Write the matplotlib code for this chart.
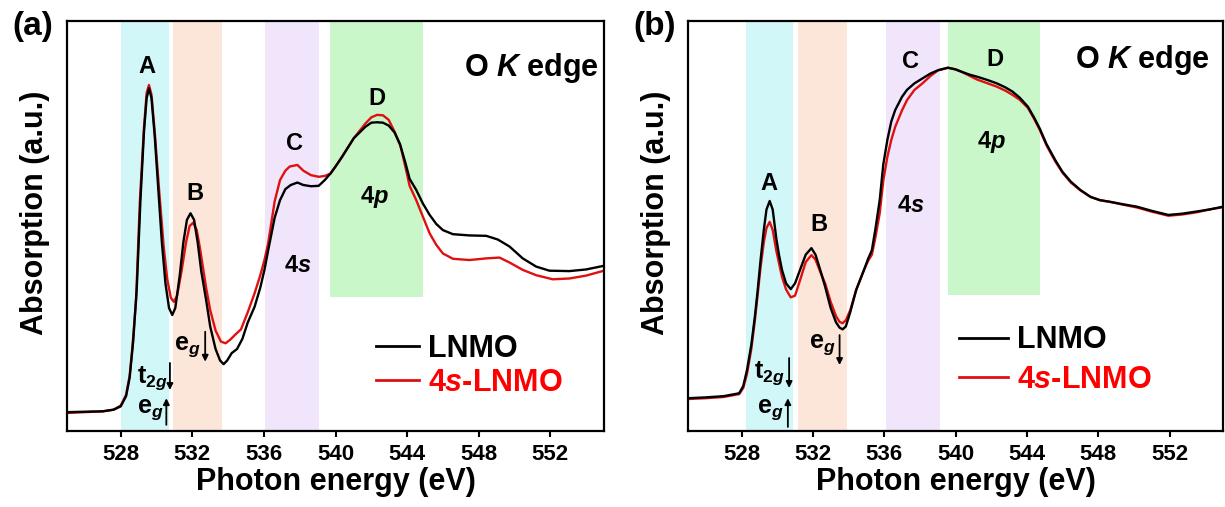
import matplotlib
matplotlib.use("Agg")
import matplotlib.pyplot as plt

plt.rcParams['font.family'] = ['Liberation Sans', 'DejaVu Sans']
plt.rcParams['font.weight'] = 'bold'
plt.rcParams['axes.labelweight'] = 'bold'
plt.rcParams['mathtext.fontset'] = 'custom'
plt.rcParams['mathtext.rm'] = 'Liberation Sans:bold'
plt.rcParams['mathtext.bf'] = 'Liberation Sans:bold'
plt.rcParams['mathtext.it'] = 'Liberation Sans:italic:bold'
plt.rcParams['mathtext.bfit'] = 'Liberation Sans:italic:bold'

# ---- panel (a) data: photon energy (eV) vs absorption (a.u.) ----
a_lnmo_e = [525.0, 526.0, 527.0, 527.6, 528.0, 528.3, 528.5, 528.7, 528.9, 529.1,
            529.3, 529.45, 529.58, 529.72, 529.9, 530.1, 530.3, 530.5, 530.7, 530.88,
            531.05, 531.3, 531.5, 531.7, 531.9, 532.1, 532.3, 532.5, 532.77, 533.0,
            533.3, 533.55, 533.75, 533.95, 534.2, 534.5, 534.8, 535.1, 535.48, 535.8,
            536.03, 536.24, 536.6, 536.9, 537.2, 537.5, 537.87, 538.2, 538.63, 539.06,
            539.4, 539.72, 540.0, 540.37, 541.02, 541.67, 542.0, 542.32, 542.65, 542.97,
            543.3, 543.6, 543.9, 544.14, 544.51, 544.88, 545.26, 545.63, 546.0, 546.56,
            547.49, 548.42, 549.07, 549.72, 550.46, 551.21, 551.95, 553.07, 554.0, 555.0]
a_lnmo = [0.046, 0.047, 0.048, 0.052, 0.060, 0.085, 0.130, 0.220, 0.350, 0.560,
          0.730, 0.812, 0.836, 0.812, 0.720, 0.590, 0.460, 0.360, 0.300, 0.283,
          0.300, 0.380, 0.460, 0.515, 0.531, 0.515, 0.460, 0.390, 0.320, 0.255,
          0.200, 0.172, 0.163, 0.172, 0.190, 0.200, 0.225, 0.265, 0.303, 0.350,
          0.393, 0.441, 0.520, 0.563, 0.590, 0.600, 0.606, 0.600, 0.597, 0.598,
          0.612, 0.628, 0.645, 0.669, 0.714, 0.742, 0.752, 0.753, 0.752, 0.745,
          0.728, 0.700, 0.655, 0.615, 0.588, 0.555, 0.527, 0.505, 0.490, 0.480,
          0.477, 0.476, 0.467, 0.450, 0.421, 0.401, 0.391, 0.390, 0.394, 0.403]

a_4s_e = [525.0, 526.0, 527.0, 527.6, 528.0, 528.3, 528.5, 528.64, 528.86, 529.07,
          529.3, 529.45, 529.58, 529.72, 529.9, 530.16, 530.4, 530.6, 530.8, 530.97,
          531.15, 531.4, 531.65, 531.85, 532.05, 532.25, 532.45, 532.77, 533.0, 533.3,
          533.6, 533.86, 534.1, 534.4, 534.72, 535.1, 535.48, 535.8, 536.03, 536.24,
          536.6, 536.9, 537.2, 537.44, 537.87, 538.2, 538.63, 539.06, 539.4, 539.72,
          540.0, 540.37, 541.02, 541.67, 542.0, 542.32, 542.65, 542.97, 543.3, 543.63,
          543.9, 544.14, 544.51, 544.88, 545.26, 545.63, 546.0, 546.56, 547.49, 548.42,
          549.16, 549.72, 550.46, 551.21, 552.14, 553.07, 554.0, 555.0]
a_4s = [0.044, 0.046, 0.048, 0.052, 0.062, 0.088, 0.135, 0.198, 0.320, 0.560,
        0.740, 0.825, 0.844, 0.820, 0.730, 0.580, 0.450, 0.370, 0.325, 0.315,
        0.330, 0.390, 0.460, 0.500, 0.508, 0.490, 0.440, 0.350, 0.295, 0.245,
        0.218, 0.214, 0.222, 0.235, 0.248, 0.290, 0.336, 0.380, 0.417, 0.458,
        0.560, 0.612, 0.635, 0.645, 0.649, 0.635, 0.624, 0.620, 0.622, 0.628,
        0.645, 0.669, 0.714, 0.750, 0.765, 0.771, 0.770, 0.759, 0.730, 0.695,
        0.645, 0.598, 0.563, 0.523, 0.482, 0.454, 0.433, 0.420, 0.417, 0.421,
        0.423, 0.411, 0.393, 0.380, 0.370, 0.372, 0.379, 0.391]

# ---- panel (b) data ----
b_e = [525.0, 526.0, 527.0, 527.87, 528.1, 528.31, 528.55, 528.75, 528.9, 529.07,
       529.25, 529.4, 529.58, 529.75, 529.95, 530.1, 530.27, 530.5, 530.76, 531.0,
       531.3, 531.6, 531.92, 532.15, 532.4, 532.69, 533.0, 533.3, 533.5, 533.67,
       533.85, 534.1, 534.43, 534.87, 535.1, 535.31, 535.5, 535.75, 535.95, 536.18,
       536.4, 536.62, 537.0, 537.28, 537.7, 538.15, 538.6, 539.03, 539.58, 540.0,
       540.35, 540.8, 541.22, 541.8, 542.31, 542.8, 543.19, 543.6, 544.06, 544.4,
       544.72, 545.1, 545.59, 546.0, 546.47, 547.0, 547.57, 548.1, 548.66, 549.4,
       550.19, 551.0, 551.94, 552.7, 553.47, 554.2, 555.0]
b_lnmo = [0.080, 0.082, 0.085, 0.092, 0.110, 0.149, 0.210, 0.279, 0.340, 0.417,
          0.490, 0.540, 0.561, 0.540, 0.470, 0.430, 0.393, 0.360, 0.346, 0.360,
          0.395, 0.430, 0.446, 0.430, 0.395, 0.352, 0.300, 0.265, 0.252, 0.248,
          0.255, 0.290, 0.344, 0.393, 0.420, 0.441, 0.490, 0.563, 0.650, 0.710,
          0.755, 0.783, 0.815, 0.832, 0.848, 0.860, 0.872, 0.880, 0.886, 0.882,
          0.876, 0.869, 0.864, 0.856, 0.848, 0.838, 0.828, 0.813, 0.791, 0.765,
          0.738, 0.700, 0.661, 0.632, 0.608, 0.588, 0.571, 0.563, 0.559, 0.553,
          0.547, 0.537, 0.527, 0.530, 0.535, 0.540, 0.547]
b_4s = [0.078, 0.080, 0.083, 0.090, 0.105, 0.140, 0.200, 0.270, 0.330, 0.400,
        0.460, 0.495, 0.510, 0.490, 0.440, 0.410, 0.376, 0.345, 0.326, 0.330,
        0.370, 0.412, 0.429, 0.418, 0.390, 0.360, 0.315, 0.280, 0.266, 0.263,
        0.270, 0.295, 0.344, 0.393, 0.415, 0.430, 0.470, 0.531, 0.610, 0.669,
        0.710, 0.742, 0.782, 0.807, 0.832, 0.848, 0.866, 0.880, 0.886, 0.882,
        0.876, 0.866, 0.857, 0.848, 0.840, 0.830, 0.820, 0.808, 0.788, 0.762,
        0.735, 0.697, 0.658, 0.630, 0.606, 0.587, 0.571, 0.563, 0.559, 0.552,
        0.545, 0.535, 0.525, 0.528, 0.533, 0.540, 0.546]

# shaded regions (eV ranges)
a_bands = [(528.0, 530.7), (530.9, 533.65), (536.05, 539.1), (539.7, 544.88)]
b_bands = [(528.26, 530.89), (531.19, 533.93), (536.1, 539.14), (539.6, 544.74)]
band_colors = ['#d2f7f9', '#fce6d9', '#f1e5fb', '#c9f7c9']
green_bottom = [0.327, 0.332]

x_ticks = [528, 532, 536, 540, 544, 548, 552]

black = '#000000'
red = '#e01010'

fig = plt.figure(figsize=(12.25, 5.07), dpi=100)
ax_a = fig.add_axes([67 / 1225, 76 / 507, 537 / 1225, 410 / 507])
ax_b = fig.add_axes([688 / 1225, 76 / 507, 535 / 1225, 410 / 507])


def setup(ax, bands, gb):
    for i, (x0, x1) in enumerate(bands):
        ymin = gb if i == 3 else 0
        ax.axvspan(x0, x1, ymin=ymin, ymax=1, color=band_colors[i], lw=0, zorder=0)
    ax.set_xlim(525, 555)
    ax.set_ylim(0, 1)
    ax.set_xticks(x_ticks)
    ax.set_yticks([])
    ax.tick_params(axis='x', direction='out', length=4, width=1.5, labelsize=16, pad=5)
    for s in ax.spines.values():
        s.set_linewidth(1.6)
    ax.set_xlabel('Photon energy (eV)', fontsize=22, fontweight='bold', labelpad=2)
    ax.set_ylabel('Absorption (a.u.)', fontsize=22, fontweight='bold')
    ax.yaxis.set_label_coords(-0.031, 0.533)


def arrow(ax, x, y0, y1):
    ax.annotate('', xy=(x, y1), xytext=(x, y0),
                arrowprops=dict(arrowstyle='-|>', lw=1.3, color='k',
                                mutation_scale=9, shrinkA=0, shrinkB=0))


# ---------------- panel (a) ----------------
setup(ax_a, a_bands, green_bottom[0])
ax_a.plot(a_lnmo_e, a_lnmo, color=black, lw=1.7, label='LNMO', zorder=3)
ax_a.plot(a_4s_e, a_4s, color=red, lw=1.7, label='4$\\mathbfit{s}$-LNMO', zorder=2)

for s, x, y in [('A', 529.47, 0.872), ('B', 532.12, 0.563), ('C', 537.7, 0.685),
                ('D', 542.32, 0.795), ('4$\\mathbfit{p}$', 542.2, 0.556),
                ('4$\\mathbfit{s}$', 537.87, 0.389)]:
    ax_a.text(x, y, s, ha='center', va='baseline', fontsize=17)
ax_a.text(554.7, 0.866, 'O $\\mathbfit{K}$ edge', ha='right', va='baseline', fontsize=22)

ax_a.text(528.9, 0.129, '$\\mathbf{t}_{\\mathbf{2}\\mathbfit{g}}$', ha='left', va='center', fontsize=18)
ax_a.text(528.9, 0.051, '$\\mathbf{e}_{\\mathbfit{g}}$', ha='left', va='center', fontsize=18)
ax_a.text(531.0, 0.206, '$\\mathbf{e}_{\\mathbfit{g}}$', ha='left', va='center', fontsize=18)
arrow(ax_a, 530.75, 0.166, 0.10)
arrow(ax_a, 530.55, 0.015, 0.08)
arrow(ax_a, 532.72, 0.242, 0.169)

leg = ax_a.legend(loc='center left', bbox_to_anchor=(0.576, 0.159), frameon=False,
                  fontsize=22, handlelength=1.4, handletextpad=0.3, labelspacing=0.15,
                  borderpad=0, borderaxespad=0)
leg.get_texts()[1].set_color('#ff0000')
for line in leg.get_lines():
    line.set_linewidth(2)

# ---------------- panel (b) ----------------
setup(ax_b, b_bands, green_bottom[1])
ax_b.plot(b_e, b_lnmo, color=black, lw=1.7, label='LNMO', zorder=3)
ax_b.plot(b_e, b_4s, color=red, lw=1.7, label='4$\\mathbfit{s}$-LNMO', zorder=2)

for s, x, y in [('A', 529.51, 0.588), ('B', 532.36, 0.488), ('C', 537.5, 0.885),
                ('D', 542.2, 0.891), ('4$\\mathbfit{p}$', 541.99, 0.69),
                ('4$\\mathbfit{s}$', 537.5, 0.535)]:
    ax_b.text(x, y, s, ha='center', va='baseline', fontsize=17)
ax_b.text(554.24, 0.885, 'O $\\mathbfit{K}$ edge', ha='right', va='baseline', fontsize=22)

ax_b.text(528.7, 0.141, '$\\mathbf{t}_{\\mathbf{2}\\mathbfit{g}}$', ha='left', va='center', fontsize=18)
ax_b.text(528.85, 0.051, '$\\mathbf{e}_{\\mathbfit{g}}$', ha='left', va='center', fontsize=18)
ax_b.text(531.8, 0.21, '$\\mathbf{e}_{\\mathbfit{g}}$', ha='left', va='center', fontsize=18)
arrow(ax_b, 530.67, 0.178, 0.105)
arrow(ax_b, 530.6, 0.01, 0.08)
arrow(ax_b, 533.5, 0.234, 0.161)

leg = ax_b.legend(loc='center left', bbox_to_anchor=(0.507, 0.173), frameon=False,
                  fontsize=22, handlelength=1.6, handletextpad=0.3, labelspacing=0.3,
                  borderpad=0, borderaxespad=0)
leg.get_texts()[1].set_color('#ff0000')
for line in leg.get_lines():
    line.set_linewidth(2)

fig.text(12 / 1225, 1 - 27 / 507, '(a)', fontsize=24, ha='left', va='center')
fig.text(633 / 1225, 1 - 27 / 507, '(b)', fontsize=24, ha='left', va='center')

fig.savefig('out.png', dpi=100)
